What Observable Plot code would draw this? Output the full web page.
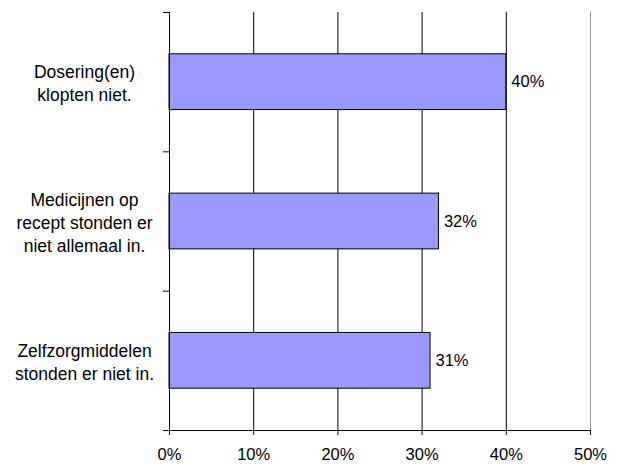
<!DOCTYPE html>
<html>
<head>
<meta charset="utf-8">
<script src="https://cdn.jsdelivr.net/npm/d3@7"></script>
<script src="https://cdn.jsdelivr.net/npm/@observablehq/plot@0.6"></script>
<style>
  html, body { margin: 0; padding: 0; background: #fff; }
  svg { display: block; }
</style>
</head>
<body>
<div id="chart"></div>
<script>
const categories = [
  "Dosering(en)\nklopten niet.",
  "Medicijnen op\nrecept stonden er\nniet allemaal in.",
  "Zelfzorgmiddelen\nstonden er niet in."
];
const values = [40, 32, 31];
const xTicks = [0, 10, 20, 30, 40, 50];
const gridLines = [10, 20, 30, 40];
const bandEdges = [0, 1, 2, 3];

const data = categories.map((c, i) => ({category: c, value: values[i], i}));

const chart = Plot.plot({
  width: 617,
  height: 467,
  marginLeft: 169,
  marginRight: 27,
  marginTop: 12,
  marginBottom: 37,
  style: {fontFamily: "Liberation Sans, Arial, sans-serif", fontSize: "16.5px", color: "#000", background: "#fff"},
  x: {domain: [0, 50]},
  y: {domain: [0, 3], reverse: true},
  marks: [
    Plot.ruleX(gridLines, {stroke: "#000", strokeWidth: 1}),
    Plot.ruleX([50], {stroke: "#999", strokeWidth: 1}),
    Plot.rectX(data, {x1: 0, x2: "value", y1: d => d.i + 0.3, y2: d => d.i + 0.7, fill: "#9999FF", stroke: "#000", strokeWidth: 1}),
    Plot.ruleX([0], {stroke: "#000", strokeWidth: 1}),
    Plot.ruleY([3], {stroke: "#000", strokeWidth: 1}),
    Plot.axisY({ticks: bandEdges, tickSize: 6, tickFormat: () => "", label: null}),
    Plot.axisX({ticks: xTicks, tickSize: 5, tickPadding: 13, tickFormat: d => d + "%", label: null, fontSize: 16.5}),
    Plot.text(data, {x: "value", y: d => d.i + 0.5, text: d => d.value + "%", textAnchor: "start", dx: 5, fontSize: 16.5, fill: "#000"}),
    Plot.text(data, {y: d => d.i + 0.5, text: "category", frameAnchor: "left", dx: -85, textAnchor: "middle", lineAnchor: "middle", lineHeight: 1.34, fontSize: 17.5, fill: "#000"})
  ]
});
document.getElementById("chart").appendChild(chart);
</script>
</body>
</html>
